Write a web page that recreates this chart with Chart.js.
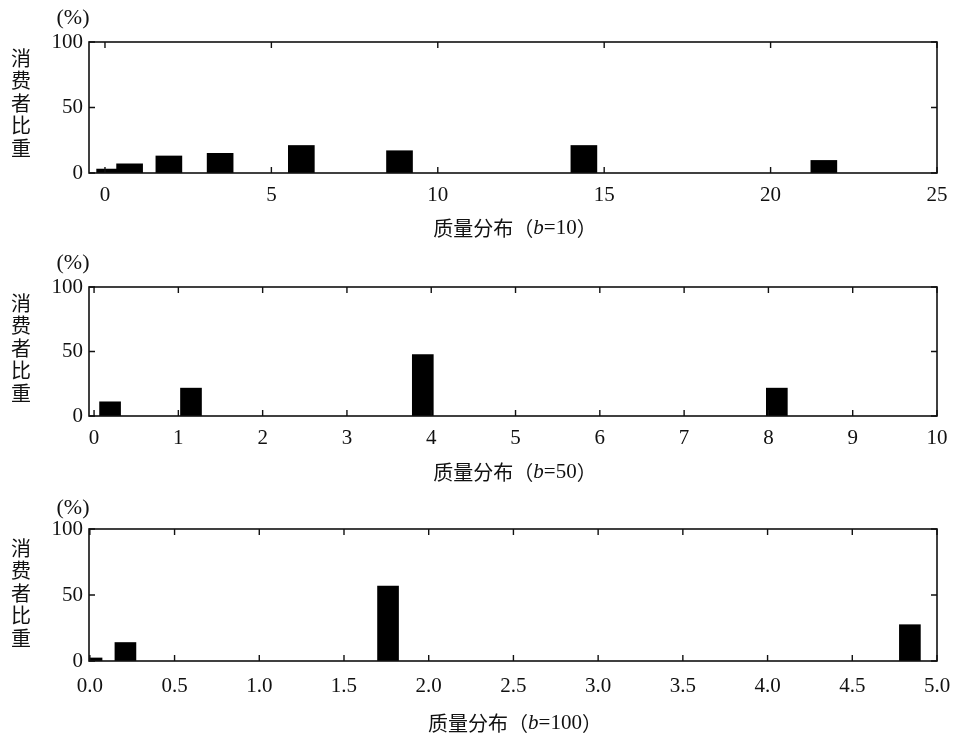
<!DOCTYPE html>
<html lang="zh">
<head>
    <meta charset="UTF-8">
    <title>消费者比重 质量分布</title>
    <script src="https://cdn.jsdelivr.net/npm/chart.js"></script>
    <style>
        body { margin: 0; background: #fff; }
        .panel { position: absolute; left: 0; width: 964px; }
    </style>
</head>
<body>
    <div class="panel" style="top:0px;height:245px"><canvas id="c1" width="964" height="245"></canvas></div>
    <div class="panel" style="top:245px;height:245px"><canvas id="c2" width="964" height="245"></canvas></div>
    <div class="panel" style="top:490px;height:248px"><canvas id="c3" width="964" height="248"></canvas></div>

    <script>
        // 数据
        const yTicks = [0, 50, 100];
        const yTitle = ['消', '费', '者', '比', '重'];
        const unitLabel = '(%)';
        const xTitleMain = '质量分布';

        // b=10
        const quality10 = [0.14, 0.74, 1.92, 3.46, 5.9, 8.85, 14.39, 21.6];
        const share10 = [3, 7, 13, 15, 21, 17, 21, 9.6];
        const xTicks10 = [0, 5, 10, 15, 20, 25];

        // b=50
        const quality50 = [0.19, 1.15, 3.9, 8.1];
        const share50 = [11, 21.6, 47.6, 21.6];
        const xTicks50 = [0, 1, 2, 3, 4, 5, 6, 7, 8, 9, 10];

        // b=100
        const quality100 = [0.01, 0.21, 1.76, 4.84];
        const share100 = [2.3, 14, 56.7, 27.5];
        const xTicks100 = [0, 0.5, 1, 1.5, 2, 2.5, 3, 3.5, 4, 4.5, 5];

        const numFont = 'Liberation Serif';
        const cjkFont = 'Noto Sans CJK SC';

        // 边框、内向刻度和文字
        const framePlugin = {
            id: 'frame',
            afterDraw(chart, args, opts) {
                const ctx = chart.ctx;
                const a = chart.chartArea;
                const xs = chart.scales.x, ys = chart.scales.y;
                ctx.save();
                ctx.strokeStyle = '#111';
                ctx.lineWidth = 1.6;
                ctx.strokeRect(a.left, a.top, a.right - a.left, a.bottom - a.top);
                ctx.lineWidth = 1.4;
                ctx.beginPath();
                opts.xTicks.forEach(v => {
                    const px = xs.getPixelForValue(v);
                    ctx.moveTo(px, a.top); ctx.lineTo(px, a.top + 6);
                    ctx.moveTo(px, a.bottom); ctx.lineTo(px, a.bottom - 6);
                });
                yTicks.forEach(v => {
                    const py = ys.getPixelForValue(v);
                    ctx.moveTo(a.left, py); ctx.lineTo(a.left + 6, py);
                    ctx.moveTo(a.right, py); ctx.lineTo(a.right - 6, py);
                });
                ctx.stroke();

                ctx.fillStyle = '#111';
                ctx.textBaseline = 'middle';
                // 纵轴标题 (竖排)
                ctx.textAlign = 'center';
                ctx.font = '20px "' + cjkFont + '"';
                yTitle.forEach((ch, i) => ctx.fillText(ch, 21, 58 + i * 22.5));
                // (%)
                ctx.font = '22px "' + numFont + '"';
                ctx.fillText(unitLabel, 73, 18);

                // 横轴标题: 质量分布（b=..）
                const parts = [
                    [xTitleMain + '（', '20px "' + cjkFont + '"'],
                    ['b', 'italic 21px "' + numFont + '"'],
                    ['=' + opts.b, '21px "' + numFont + '"'],
                    ['）', '20px "' + cjkFont + '"']
                ];
                let total = 0;
                parts.forEach(p => { ctx.font = p[1]; total += ctx.measureText(p[0]).width; });
                let x = (a.left + a.right) / 2 + 2 - total / 2;
                ctx.textAlign = 'left';
                parts.forEach(p => {
                    ctx.font = p[1];
                    ctx.fillText(p[0], x, opts.titleY);
                    x += ctx.measureText(p[0]).width;
                });
                ctx.restore();
            }
        };

        function makeChart(id, xs, ys, xTicks, cfg) {
            const ctx = document.getElementById(id).getContext('2d');
            return new Chart(ctx, {
                type: 'bar',
                data: {
                    datasets: [{
                        data: xs.map((v, i) => ({ x: v, y: ys[i] })),
                        backgroundColor: '#000',
                        borderWidth: 0,
                        barThickness: cfg.barWidth
                    }]
                },
                options: {
                    responsive: false,
                    animation: false,
                    devicePixelRatio: 1,
                    layout: { padding: { top: cfg.top, right: 27, left: 0, bottom: 0 } },
                    plugins: {
                        legend: { display: false },
                        tooltip: { enabled: false },
                        frame: { xTicks: xTicks, b: cfg.b, titleY: cfg.titleY }
                    },
                    scales: {
                        x: {
                            type: 'linear',
                            min: cfg.min,
                            max: cfg.max,
                            offset: false,
                            grid: { display: false, drawTicks: false },
                            border: { display: false },
                            afterBuildTicks: s => { s.ticks = xTicks.map(v => ({ value: v })); },
                            afterFit: s => { s.height = cfg.axisH; },
                            ticks: {
                                padding: cfg.tickPad,
                                autoSkip: false,
                                maxRotation: 0,
                                color: '#111',
                                font: { family: numFont, size: 21 },
                                callback: v => cfg.decimals ? v.toFixed(1) : String(v)
                            }
                        },
                        y: {
                            min: 0,
                            max: 100,
                            grid: { display: false, drawTicks: false },
                            border: { display: false },
                            afterBuildTicks: s => { s.ticks = yTicks.map(v => ({ value: v })); },
                            afterFit: s => { s.width = 89; },
                            ticks: {
                                padding: 6,
                                color: '#111',
                                font: { family: numFont, size: 21 }
                            }
                        }
                    }
                },
                plugins: [framePlugin]
            });
        }

        makeChart('c1', quality10, share10, xTicks10,
            { min: -0.48, max: 25, barWidth: 26, top: 42, axisH: 72, tickPad: 10, titleY: 228, b: 10 });
        makeChart('c2', quality50, share50, xTicks50,
            { min: -0.06, max: 10, barWidth: 21, top: 42, axisH: 74, tickPad: 10, titleY: 227, b: 50 });
        makeChart('c3', quality100, share100, xTicks100,
            { min: -0.005, max: 5, barWidth: 21, top: 39, axisH: 77, tickPad: 13, titleY: 233, b: 100, decimals: true });
    </script>
</body>
</html>
